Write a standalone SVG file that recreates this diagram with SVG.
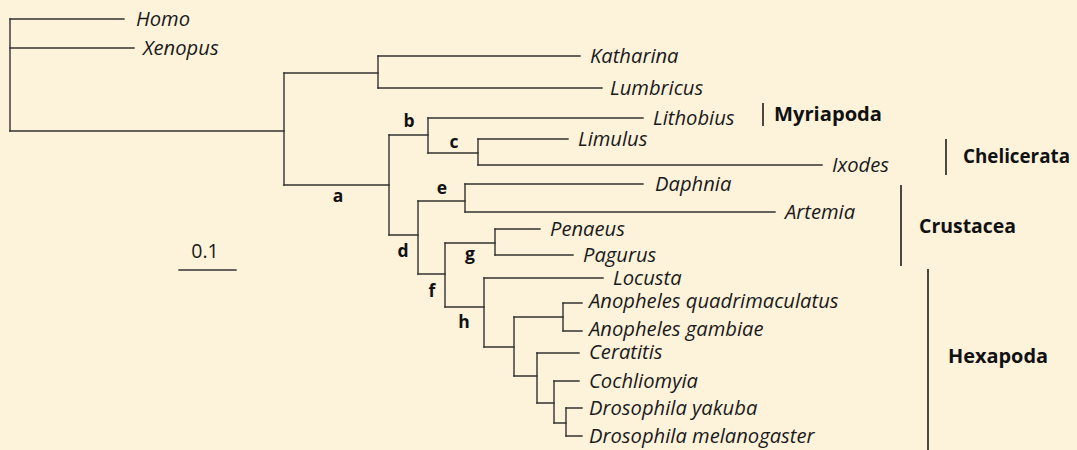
<svg xmlns="http://www.w3.org/2000/svg" width="1077" height="450" viewBox="0 0 1077 450">
<style>
.bg{fill:#fdf2da}
.br{stroke:#333;stroke-width:1.4;fill:none;stroke-linecap:square}
.tx{font-family:"Open Sans","Noto Sans",sans-serif;font-style:italic;font-size:20.2px;fill:#1a1a1a}
.lb{font-family:"Open Sans","Noto Sans",sans-serif;font-weight:bold;font-size:17.5px;fill:#111;text-anchor:middle}
.cl{font-family:"Open Sans","Noto Sans",sans-serif;font-weight:bold;font-size:19.5px;fill:#111}
.bar{stroke:#111;stroke-width:1.5}
.sc{font-family:"Open Sans","Noto Sans",sans-serif;font-size:19.5px;fill:#1a1a1a;text-anchor:middle}
</style>
<rect class="bg" x="0" y="0" width="1077" height="450"/>
<g id="connectors" class="br">
<path d="M10 19V131M284 73V185M378 56V88M389 135V235M428 118V153M478 139V165M418 201V274M465 184V212M445 243V307M495 229V255M484 278V347M514 317V376M563 303V331M537 353V403M554 381V423M566 408V436"/>
<path d="M10 19H124M10 48H134M10 131H284M284 73H378M378 56H580M378 88H602M284 185H389M389 135H428M428 118H643M428 153H478M478 139H568M478 165H822M389 235H418M418 201H465M465 184H643M465 212H775M418 274H445M445 243H495M495 229H540M495 255H573M445 307H484M484 278H603M484 347H514M514 317H563M563 303H582M563 331H582M514 376H537M537 353H579M537 403H554M554 381H579M554 423H566M566 408H582M566 436H582"/>
<path d="M179 270H236"/>
</g>
<g id="taxa">
<g id="homo"><text class="tx" x="136" y="26">Homo</text></g>
<g id="xenopus"><text class="tx" x="143" y="55">Xenopus</text></g>
<g id="katharina"><text class="tx" x="590" y="63">Katharina</text></g>
<g id="lumbricus"><text class="tx" x="610" y="95">Lumbricus</text></g>
<g id="lithobius"><text class="tx" x="653" y="125">Lithobius</text></g>
<g id="limulus"><text class="tx" x="578" y="146">Limulus</text></g>
<g id="ixodes"><text class="tx" x="832" y="172">Ixodes</text></g>
<g id="daphnia"><text class="tx" x="655" y="191">Daphnia</text></g>
<g id="artemia"><text class="tx" x="785" y="219">Artemia</text></g>
<g id="penaeus"><text class="tx" x="550" y="236">Penaeus</text></g>
<g id="pagurus"><text class="tx" x="583" y="262">Pagurus</text></g>
<g id="locusta"><text class="tx" x="613" y="285">Locusta</text></g>
<g id="anopheles-q"><text class="tx" x="589" y="308">Anopheles quadrimaculatus</text></g>
<g id="anopheles-g"><text class="tx" x="589" y="336">Anopheles gambiae</text></g>
<g id="ceratitis"><text class="tx" x="589" y="359">Ceratitis</text></g>
<g id="cochliomyia"><text class="tx" x="589" y="388">Cochliomyia</text></g>
<g id="drosophila-y"><text class="tx" x="589" y="415">Drosophila yakuba</text></g>
<g id="drosophila-m"><text class="tx" x="589" y="443">Drosophila melanogaster</text></g>
</g>
<g id="node-labels">
<g id="node-a"><text class="lb" x="338" y="202">a</text></g>
<g id="node-b"><text class="lb" x="409" y="127">b</text></g>
<g id="node-c"><text class="lb" x="454" y="148">c</text></g>
<g id="node-d"><text class="lb" x="403" y="257">d</text></g>
<g id="node-e"><text class="lb" x="442" y="194">e</text></g>
<g id="node-f"><text class="lb" x="432" y="297">f</text></g>
<g id="node-g"><text class="lb" x="470" y="260">g</text></g>
<g id="node-h"><text class="lb" x="464" y="328">h</text></g>
</g>
<g id="clades">
<g id="myriapoda"><line class="bar" x1="763" y1="103" x2="763" y2="126"/><text class="cl" x="774" y="121" textLength="108" lengthAdjust="spacingAndGlyphs">Myriapoda</text></g>
<g id="chelicerata"><line class="bar" x1="946" y1="139" x2="946" y2="175"/><text class="cl" x="963" y="163" textLength="107" lengthAdjust="spacingAndGlyphs">Chelicerata</text></g>
<g id="crustacea"><line class="bar" x1="901" y1="185" x2="901" y2="266"/><text class="cl" x="919" y="233" textLength="97" lengthAdjust="spacingAndGlyphs">Crustacea</text></g>
<g id="hexapoda"><line class="bar" x1="928" y1="269" x2="928" y2="450"/><text class="cl" x="948" y="363" textLength="100" lengthAdjust="spacingAndGlyphs">Hexapoda</text></g>
</g>
<g id="scale"><text class="sc" x="205" y="258">0.1</text></g>
</svg>
